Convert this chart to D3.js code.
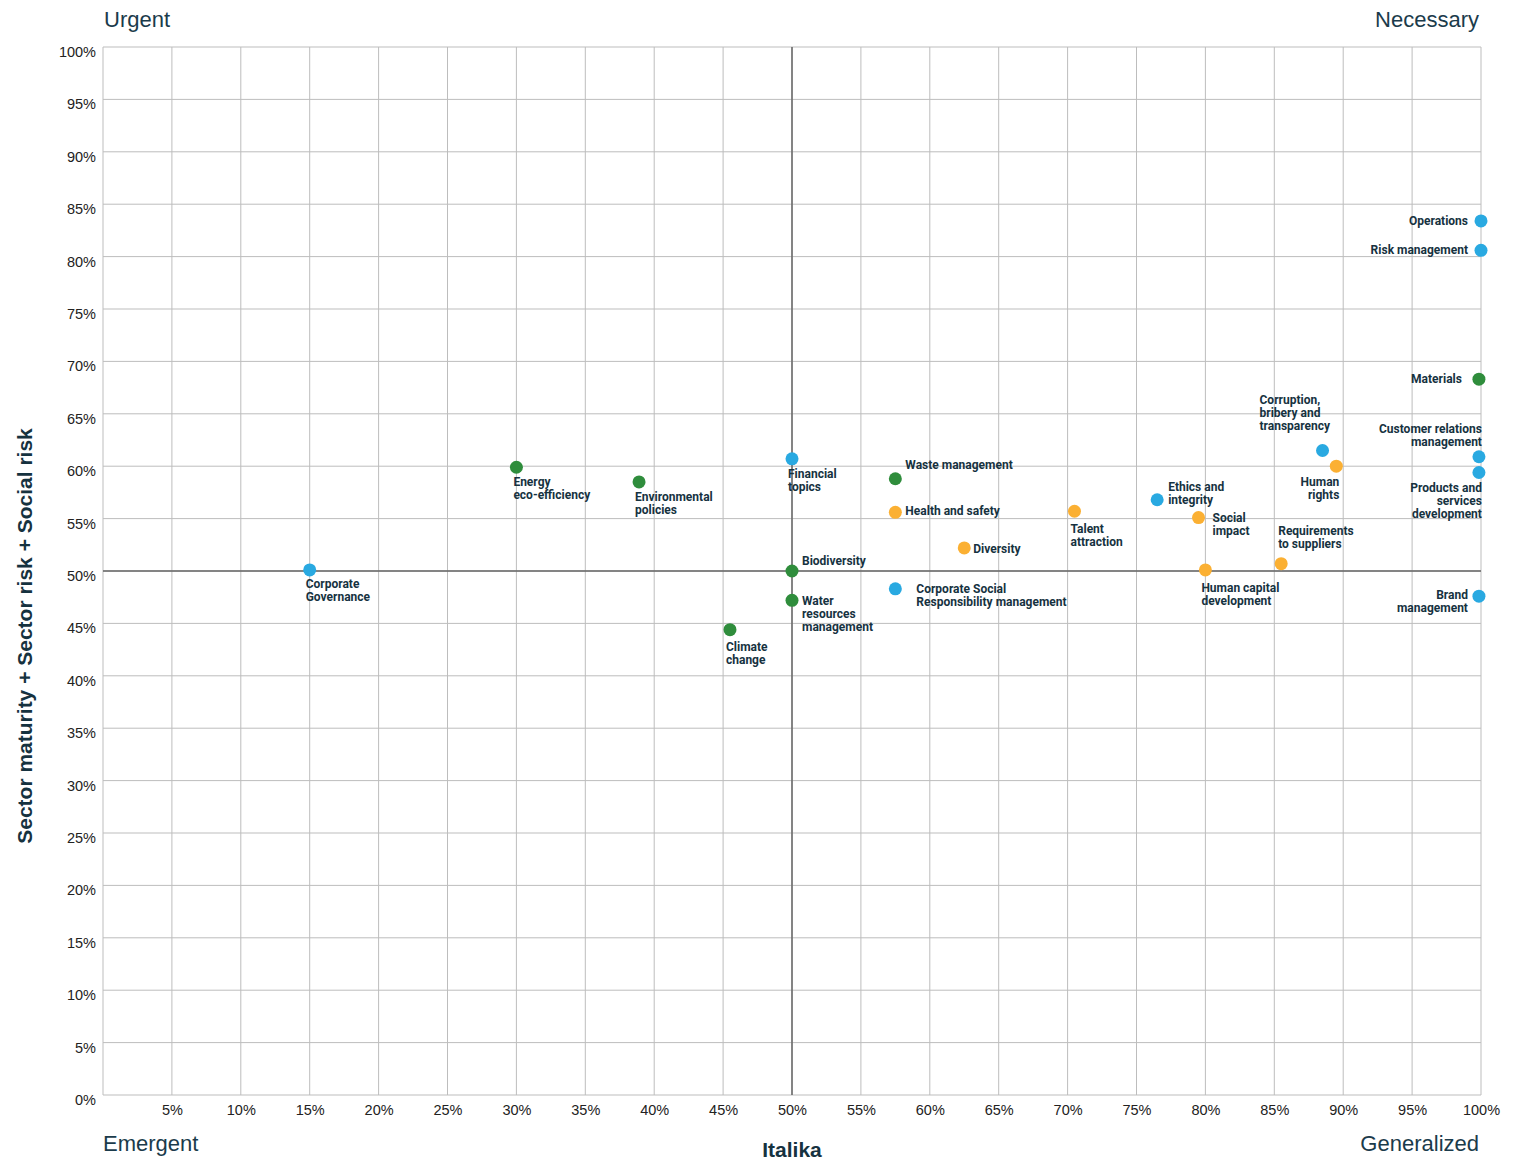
<!DOCTYPE html>
<html>
<head>
<meta charset="utf-8">
<script src="https://cdn.jsdelivr.net/npm/d3@7"></script>
<style>
  body { margin: 0; background: #fff; }
  svg { display: block; }
  .tick text { font-family: "Liberation Sans", Arial, sans-serif; font-size: 14.5px; fill: #222; }
  .lbl { font-family: Roboto, "Liberation Sans", sans-serif; font-size: 12px; font-weight: 700; fill: #16323f; }
  .corner { font-family: "Liberation Sans", Arial, sans-serif; font-size: 22px; fill: #1b3b4b; }
  .title { font-family: "Liberation Sans", Arial, sans-serif; font-size: 21px; font-weight: 700; fill: #16323f; }
</style>
</head>
<body>
<svg width="1522" height="1168"></svg>
<script>
// topics plotted: name lines, Italika %, sector %, group
var topicNames = [
  ["Operations"], ["Risk management"], ["Materials"],
  ["Customer relations", "management"], ["Products and", "services", "development"],
  ["Brand", "management"], ["Corruption,", "bribery and", "transparency"],
  ["Human", "rights"], ["Requirements", "to suppliers"], ["Human capital", "development"],
  ["Social", "impact"], ["Ethics and", "integrity"], ["Talent", "attraction"],
  ["Diversity"], ["Health and safety"], ["Waste management"],
  ["Corporate Social", "Responsibility management"], ["Financial", "topics"],
  ["Biodiversity"], ["Water", "resources", "management"], ["Climate", "change"],
  ["Environmental", "policies"], ["Energy", "eco-efficiency"], ["Corporate", "Governance"]
];
var italikaValues = [100, 100, 99.85, 99.85, 99.85, 99.85, 88.5, 89.5, 85.5, 80, 79.5, 76.5, 70.5,
  62.5, 57.5, 57.5, 57.5, 50, 50, 50, 45.5, 38.9, 30, 15];
var sectorValues = [83.4, 80.6, 68.3, 60.9, 59.4, 47.6, 61.5, 60.0, 50.7, 50.1, 55.1, 56.8, 55.7,
  52.2, 55.6, 58.8, 48.3, 60.7, 50, 47.2, 44.4, 58.5, 59.9, 50.1];
var topicGroups = ["gov", "gov", "env", "gov", "gov", "gov", "gov", "soc", "soc", "soc", "soc", "gov", "soc",
  "soc", "soc", "env", "gov", "gov", "env", "env", "env", "env", "env", "gov"];
var xTicks = [5, 10, 15, 20, 25, 30, 35, 40, 45, 50, 55, 60, 65, 70, 75, 80, 85, 90, 95, 100];
var yTicks = [0, 5, 10, 15, 20, 25, 30, 35, 40, 45, 50, 55, 60, 65, 70, 75, 80, 85, 90, 95, 100];
var cornerLabels = ["Urgent", "Necessary", "Emergent", "Generalized"];

// label placement relative to each dot: anchor, dx, dy
var labelPlace = [
  ["end", -13, 4], ["end", -13, 4], ["end", -17, 4], ["end", 3, -24], ["end", 3, 20],
  ["end", -11, 3], ["start", -63, -46], ["end", 3, 20], ["start", -3, -29], ["start", -4, 22],
  ["start", 14, 4], ["start", 11, -9], ["start", -4, 22], ["start", 9, 5], ["start", 10, 3],
  ["start", 10, -10], ["start", 21, 4], ["start", -4, 19], ["start", 10, -6], ["start", 10, 5],
  ["start", -4, 21], ["start", -4, 19], ["start", -3, 19], ["start", -4, 18]
];

var colors = { gov: "#29a9e1", env: "#2f8d3c", soc: "#fbb033" };

var svg = d3.select("svg");
var margin = { top: 47, left: 103, right: 41, bottom: 73 };
var width = 1522, height = 1168;

var x = d3.scaleLinear().domain([0, 100]).range([margin.left, width - margin.right]);
var y = d3.scaleLinear().domain([0, 100]).range([height - margin.bottom, margin.top]);

var g = svg.append("g");

// grid
g.selectAll(".vg").data(xTicks).join("line")
  .attr("x1", d => x(d)).attr("x2", d => x(d))
  .attr("y1", y(0)).attr("y2", y(100))
  .attr("stroke", "#bdbdbd").attr("stroke-width", 1);
g.selectAll(".hg").data(yTicks).join("line")
  .attr("x1", x(0)).attr("x2", x(100))
  .attr("y1", d => y(d)).attr("y2", d => y(d))
  .attr("stroke", "#bdbdbd").attr("stroke-width", 1);
// frame left
g.append("line").attr("x1", x(0)).attr("x2", x(0)).attr("y1", y(0)).attr("y2", y(100))
  .attr("stroke", "#bdbdbd");

// quadrant lines
g.append("line").attr("x1", x(50)).attr("x2", x(50)).attr("y1", y(0)).attr("y2", y(100))
  .attr("stroke", "#666").attr("stroke-width", 1.5);
g.append("line").attr("x1", x(0)).attr("x2", x(100)).attr("y1", y(50)).attr("y2", y(50))
  .attr("stroke", "#666").attr("stroke-width", 1.5);

// axes
var xAxis = d3.axisBottom(x).tickValues(xTicks).tickFormat(d => d + "%").tickSize(0).tickPadding(10);
var yAxis = d3.axisLeft(y).tickValues(yTicks).tickFormat(d => d + "%").tickSize(0).tickPadding(7);
var gx = svg.append("g").attr("transform", "translate(0," + y(0) + ")").call(xAxis);
var gy = svg.append("g").attr("transform", "translate(" + x(0) + ",0)").call(yAxis);
gx.select(".domain").remove();
gy.select(".domain").remove();
gy.selectAll("text").attr("dy", "0.66em");

// dots
var pts = italikaValues.map((v, i) => ({ xv: v, yv: sectorValues[i], name: topicNames[i], grp: topicGroups[i], place: labelPlace[i] }));

svg.selectAll(".dot").data(pts).join("circle")
  .attr("cx", d => x(d.xv)).attr("cy", d => y(d.yv)).attr("r", 6.5)
  .attr("fill", d => colors[d.grp]);

var lbl = svg.selectAll(".lbl").data(pts).join("text")
  .attr("class", "lbl")
  .attr("text-anchor", d => d.place[0])
  .attr("x", d => x(d.xv) + d.place[1])
  .attr("y", d => y(d.yv) + d.place[2]);
lbl.selectAll("tspan").data(d => d.name.map(n => ({ n: n, d: d }))).join("tspan")
  .attr("x", t => x(t.d.xv) + t.d.place[1])
  .attr("dy", (t, i) => i === 0 ? 0 : 13)
  .text(t => t.n);

// corner texts
svg.append("text").attr("class", "corner").attr("x", 104).attr("y", 27).text(cornerLabels[0]);
svg.append("text").attr("class", "corner").attr("x", 1479).attr("y", 27).attr("text-anchor", "end").text(cornerLabels[1]);
svg.append("text").attr("class", "corner").attr("x", 103).attr("y", 1151).text(cornerLabels[2]);
svg.append("text").attr("class", "corner").attr("x", 1479).attr("y", 1151).attr("text-anchor", "end").text(cornerLabels[3]);

// axis titles
svg.append("text").attr("class", "title").attr("x", x(50)).attr("y", 1157).attr("text-anchor", "middle").text("Italika");
svg.append("text").attr("class", "title")
  .attr("transform", "translate(32," + y(43.8) + ") rotate(-90)")
  .attr("text-anchor", "middle").text("Sector maturity + Sector risk + Social risk");
</script>
</body>
</html>
